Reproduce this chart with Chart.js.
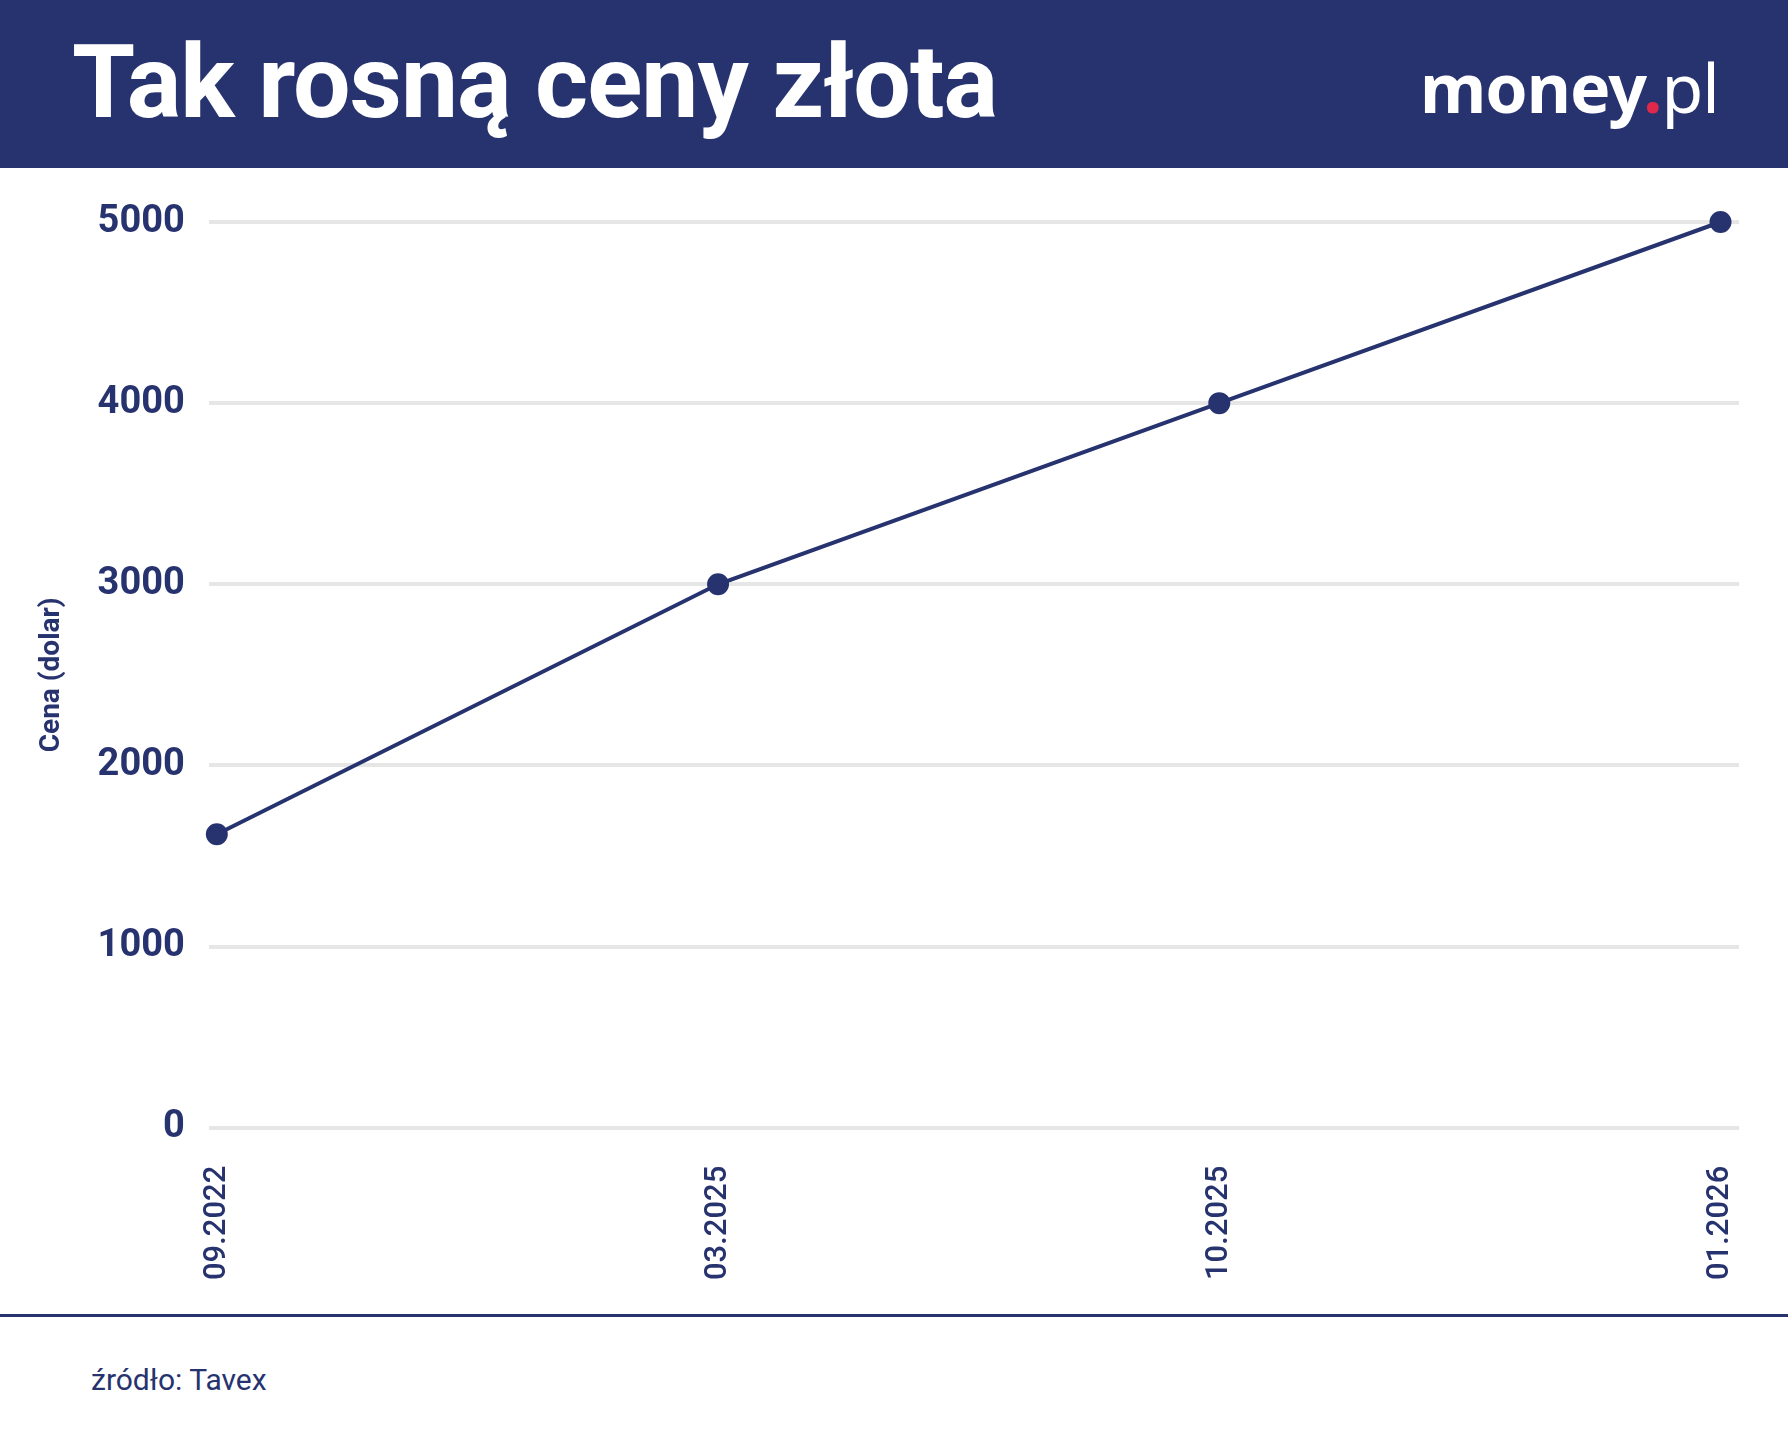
<!DOCTYPE html>
<html>
<head>
<meta charset="utf-8">
<script src="https://cdn.jsdelivr.net/npm/chart.js@4"></script>
<style>
  body { margin: 0; width: 1788px; height: 1440px; background: #fff; font-family: Roboto, sans-serif; position: relative; overflow: hidden; }
  .header { position: absolute; left: 0; top: 0; width: 1788px; height: 168px; background: #27336f; }
  .title { position: absolute; left: 72px; top: 22px; color: #fff; font: bold 102px Roboto; letter-spacing: -1px; }
  .logo { position: absolute; left: 1420px; top: 40px; color: #fff; font: bold 68px "Noto Sans"; letter-spacing: -1px; }
  .logo .dot { color: #e0284a; }
  .logo .pl { font-weight: normal; }
  .chartbox { position: absolute; left: 0; top: 168px; width: 1788px; height: 1145px; }
  .divider { position: absolute; left: 0; top: 1314px; width: 1788px; height: 3px; background: #27336f; }
  .source { position: absolute; left: 91px; top: 1362px; color: #27336f; font: 30px Roboto; }
</style>
</head>
<body>
<div class="header">
  <div class="title">Tak rosną ceny złota</div>
  <div class="logo">money<span class="dot">.</span><span class="pl">pl</span></div>
</div>
<div class="chartbox"><canvas id="goldChart"></canvas></div>
<div class="divider"></div>
<div class="source">źródło: Tavex</div>
<script>
const dates = ['09.2022', '03.2025', '10.2025', '01.2026'];
const prices = [1620, 3000, 4000, 5000];
const yTicks = [0, 1000, 2000, 3000, 4000, 5000];
const navy = '#27336f';
const gridColor = '#e6e6e6';

const ctx = document.getElementById('goldChart');
new Chart(ctx, {
  type: 'line',
  data: {
    datasets: [{
      data: prices.map((p, i) => ({ x: i, y: p })),
      borderColor: navy,
      backgroundColor: navy,
      borderWidth: 4,
      pointRadius: 9,
      pointHoverRadius: 9,
      tension: 0,
      clip: false
    }]
  },
  options: {
    responsive: true,
    maintainAspectRatio: false,
    animation: false,
    layout: { padding: { top: 54, right: 23, bottom: 3, left: 31 } },
    plugins: { legend: { display: false }, tooltip: { enabled: false } },
    scales: {
      x: {
        type: 'linear',
        min: -0.016,
        max: 3.037,
        afterBuildTicks: axis => { axis.ticks = dates.map((d, i) => ({ value: i })); },
        grid: { display: false },
        border: { display: false },
        ticks: {
          color: navy,
          font: { family: 'Roboto', size: 31, weight: '500' },
          maxRotation: 90,
          minRotation: 90,
          padding: 30,
          callback: v => dates[v]
        }
      },
      y: {
        min: 0,
        max: 5000,
        afterBuildTicks: axis => { axis.ticks = yTicks.map(v => ({ value: v })); },
        grid: { color: gridColor, lineWidth: 4, drawTicks: false },
        border: { display: false },
        title: { display: true, text: 'Cena (dolar)', color: navy, font: { family: 'Roboto', size: 28, weight: 'bold' }, padding: { bottom: 5 } },
        ticks: {
          color: navy,
          padding: 24,
          font: { family: 'Roboto', size: 38, weight: 'bold' },
          callback: v => String(v)
        }
      }
    }
  }
});
</script>
</body>
</html>
